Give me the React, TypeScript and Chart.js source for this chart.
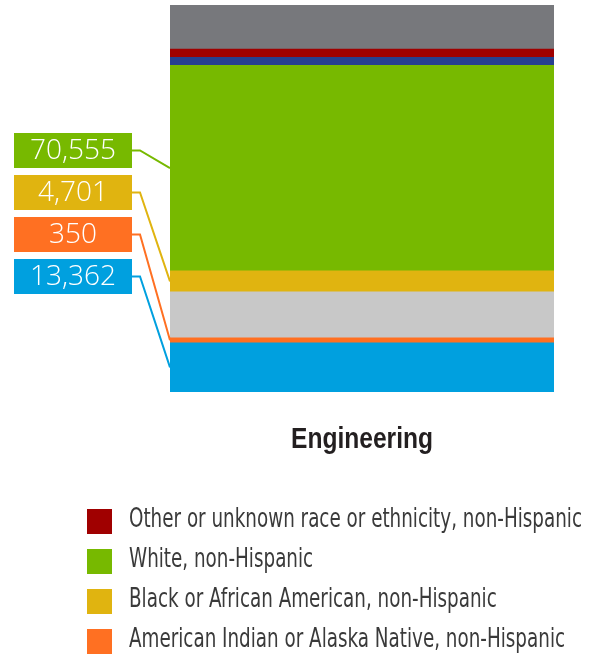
import React, { useEffect, useRef } from 'react';
import { Chart, registerables } from 'chart.js';

Chart.register(...registerables);

// ---- data (bottom of the stack first) ----
const categories = ['Engineering'];
const seriesNames = [
  'Asian, non-Hispanic',
  'American Indian or Alaska Native, non-Hispanic',
  'Hispanic or Latino',
  'Black or African American, non-Hispanic',
  'White, non-Hispanic',
  'More than one race, non-Hispanic',
  'Other or unknown race or ethnicity, non-Hispanic',
  'Temporary resident',
];
const seriesShares = [12.7, 1.3, 11.9, 5.4, 53.1, 2.1, 2.1, 11.4];
const seriesColors = ['#00a0df', '#ff7022', '#c8c8c8', '#e0b410', '#77b900', '#27408f', '#a00000', '#77787c'];
const calloutLabels = ['13,362', '350', '', '4,701', '70,555', '', '', ''];
const calloutOrder = [4, 3, 1, 0];
const legendOrder = [6, 4, 3, 1];

const calloutPlugin = {
  id: 'callouts',
  afterDatasetsDraw(chart: any) {
    const ctx = chart.ctx as CanvasRenderingContext2D;
    calloutOrder.forEach((di, k) => {
      const meta = chart.getDatasetMeta(di);
      const bar = meta.data[0] as any;
      const p = bar.getProps(['x', 'y', 'base', 'width'], true);
      const left = p.x - p.width / 2;
      const mid = (p.y + p.base) / 2;
      const color = seriesColors[di];
      const boxX = 14, boxW = 118, boxH = 35;
      const boxY = 133 + k * 42;
      const cy = boxY + boxH / 2;
      ctx.save();
      ctx.strokeStyle = color;
      ctx.lineWidth = 2;
      ctx.beginPath();
      ctx.moveTo(boxX + boxW, cy);
      ctx.lineTo(boxX + boxW + 8, cy);
      ctx.lineTo(left, mid);
      ctx.stroke();
      ctx.fillStyle = color;
      ctx.fillRect(boxX, boxY, boxW, boxH);
      ctx.fillStyle = '#ffffff';
      ctx.font = '300 28px "Open Sans", Lato, sans-serif';
      ctx.textAlign = 'center';
      ctx.textBaseline = 'middle';
      ctx.fillText(calloutLabels[di], boxX + boxW / 2, cy + 1);
      ctx.restore();
    });
  },
};

const categoryLabelPlugin = {
  id: 'categoryLabel',
  afterDraw(chart: any) {
    const ctx = chart.ctx as CanvasRenderingContext2D;
    const xs = chart.scales.x;
    ctx.save();
    ctx.font = 'bold 29px "Liberation Sans", Arial, sans-serif';
    ctx.fillStyle = '#231f20';
    ctx.textAlign = 'center';
    ctx.textBaseline = 'alphabetic';
    (chart.data.labels as string[]).forEach((lab, i) => {
      const w = ctx.measureText(lab).width;
      const s = 142 / w;
      ctx.save();
      ctx.translate(xs.getPixelForValue(i), chart.chartArea.bottom + 56);
      ctx.scale(s, 1);
      ctx.fillText(lab, 0, 0);
      ctx.restore();
    });
    ctx.restore();
  },
};

const legendPlugin = {
  id: 'customLegend',
  afterDraw(chart: any) {
    const ctx = chart.ctx as CanvasRenderingContext2D;
    ctx.save();
    ctx.font = '26px "Liberation Sans Narrow", "DejaVu Sans Condensed", "Liberation Sans", sans-serif';
    const w0 = ctx.measureText(seriesNames[legendOrder[0]]).width;
    const s = 453 / w0;
    legendOrder.forEach((di, i) => {
      const y = 509 + i * 40;
      ctx.fillStyle = seriesColors[di];
      ctx.fillRect(87, y, 25, 25);
      ctx.fillStyle = '#3a3a3a';
      ctx.textAlign = 'left';
      ctx.textBaseline = 'middle';
      ctx.save();
      ctx.translate(129, y + 11);
      ctx.scale(s, 1);
      ctx.fillText(seriesNames[di], 0, 0);
      ctx.restore();
    });
    ctx.restore();
  },
};

export default function App() {
  const ref = useRef<HTMLCanvasElement | null>(null);
  useEffect(() => {
    if (!ref.current) return;
    const chart = new Chart(ref.current, {
      type: 'bar',
      data: {
        labels: categories,
        datasets: seriesNames.map((name, i) => ({
          label: name,
          data: [seriesShares[i]],
          backgroundColor: seriesColors[i],
          borderWidth: 0,
          categoryPercentage: 1,
          barPercentage: 1,
        })),
      },
      options: {
        animation: false,
        responsive: false,
        devicePixelRatio: 1,
        layout: { padding: { left: 170, right: 43, top: 5, bottom: 266 } },
        plugins: { legend: { display: false }, tooltip: { enabled: false } },
        scales: {
          x: {
            stacked: true,
            display: false,
          },
          y: {
            stacked: true,
            display: false,
            min: 0,
            max: 100,
          },
        },
      },
      plugins: [calloutPlugin, categoryLabelPlugin, legendPlugin],
    });
    return () => chart.destroy();
  }, []);
  return (
    <div style={{ position: 'absolute', left: 0, top: 0, width: 597, height: 658 }}>
      <canvas ref={ref} width={597} height={658} style={{ display: 'block' }} />
    </div>
  );
}
